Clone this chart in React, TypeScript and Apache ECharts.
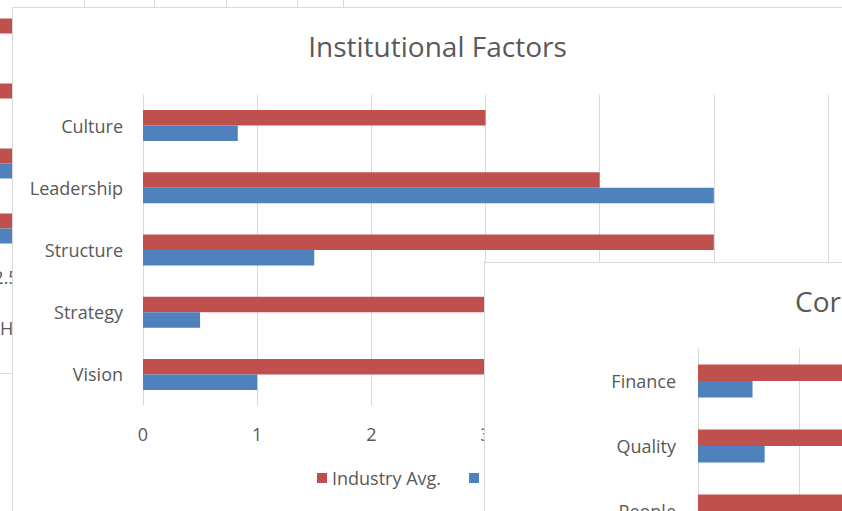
import React, { useEffect, useRef } from "react";
import * as echarts from "echarts";

// ---- Main chart: Institutional Factors ----
const instCategories = ["Culture", "Leadership", "Structure", "Strategy", "Vision"];
const instIndustry = [3, 4, 5, 4, 3];
const instHospital = [0.83, 5, 1.5, 0.5, 1];
const instTicks = [0, 1, 2, 3, 4, 5, 6];

// ---- Front chart: Core Factors (partly visible) ----
const coreCategories = ["Finance", "Quality", "People", "Process", "Technology"];
const coreIndustry = [4, 3.5, 4, 3, 3];
const coreHospital = [0.54, 0.66, 1, 1, 1];

// ---- Back chart (only a sliver is visible) ----
const backCategories = ["A", "B", "C", "D"];
const backIndustry = [2.8, 2.9, 2.8, 2.7];
const backHospital = [1.5, 2.0, 2.7, 2.75];

// spreadsheet cell border positions above the charts
const cellLines = [84, 154, 226, 297, 343];

const RED = "#C0504D";
const BLUE = "#4F81BD";
const GRID = "#D9D9D9";
const TEXT = "#595959";
const FONT = "Open Sans";
const LABEL_SIZE = 18;
const TITLE_SIZE = 28;

function makeBar(cats: string[], a: number[], b: number[], opts: any) {
  return {
    animation: false,
    textStyle: { fontFamily: FONT, color: TEXT },
    ...opts.extra,
    grid: { ...opts.grid, outerBoundsMode: "none", containLabel: false },
    xAxis: {
      type: "value",
      min: 0,
      max: opts.max,
      interval: opts.interval ?? 1,
      axisLine: { show: false },
      axisTick: { show: false },
      splitLine: { show: opts.split !== false, lineStyle: { color: GRID, width: 1 } },
      axisLabel: {
        show: opts.xLabels !== false,
        color: TEXT,
        fontFamily: FONT,
        fontSize: LABEL_SIZE,
        margin: opts.xMargin ?? 20,
        showMinLabel: true,
        showMaxLabel: true,
      },
    },
    yAxis: {
      type: "category",
      data: cats,
      inverse: true,
      axisLine: { show: false },
      axisTick: { show: false },
      axisLabel: { color: TEXT, fontFamily: FONT, fontSize: LABEL_SIZE, margin: opts.yMargin ?? 20 },
    },
    series: [
      {
        name: "Industry Avg.",
        type: "bar",
        data: a,
        barWidth: opts.barWidth,
        barGap: "0%",
        itemStyle: { color: RED },
      },
      {
        name: "Hospital",
        type: "bar",
        data: b,
        barWidth: opts.barWidth,
        barGap: "0%",
        itemStyle: { color: BLUE },
      },
    ],
  };
}

function Chart({ style, option }: { style: React.CSSProperties; option: any }) {
  const ref = useRef<HTMLDivElement>(null);
  useEffect(() => {
    if (!ref.current) return;
    const c = echarts.init(ref.current, undefined, { renderer: "svg" });
    c.setOption(option);
    return () => c.dispose();
  }, []);
  return <div ref={ref} style={style} />;
}

export default function App() {
  const boxBase: React.CSSProperties = {
    position: "absolute",
    border: "1px solid " + GRID,
    background: "#fff",
  };

  const backOption = makeBar(backCategories, backIndustry, backHospital, {
    grid: { left: 86, top: 30, width: 300, height: 260 },
    max: 3,
    interval: 0.5,
    split: false,
    barWidth: 15,
    xMargin: 7,
    extra: {
      graphic: [
        {
          type: "text",
          left: 330,
          top: 348,
          style: { text: "Hospital", fill: TEXT, font: LABEL_SIZE + "px 'Open Sans'" },
        },
      ],
    },
  });

  const mainOption = makeBar(instCategories, instIndustry, instHospital, {
    grid: { left: 130, top: 86.5, width: 685, height: 311 },
    max: instTicks[instTicks.length - 1],
    barWidth: 15.5,
    xMargin: 19,
    extra: {
      title: {
        text: "Institutional Factors",
        left: "center",
        top: 19,
        textStyle: { fontFamily: FONT, fontSize: TITLE_SIZE, fontWeight: "normal", color: TEXT },
      },
      legend: {
        left: 304,
        top: 461,
        padding: 0,
        itemWidth: 10,
        itemHeight: 10,
        itemGap: 28,
        icon: "rect",
        textStyle: { fontFamily: FONT, fontSize: LABEL_SIZE, color: TEXT },
        data: ["Industry Avg.", "Hospital"],
      },
    },
  });

  const coreOption = makeBar(coreCategories, coreIndustry, coreHospital, {
    grid: { left: 213, top: 85.5, width: 606, height: 325 },
    max: 6,
    barWidth: 16.5,
    yMargin: 22,
    extra: {
      title: {
        text: "Core Factors",
        left: 305,
        top: 19,
        textStyle: { fontFamily: FONT, fontSize: TITLE_SIZE, fontWeight: "normal", color: TEXT },
      },
    },
  });

  return (
    <div
      style={{
        position: "fixed",
        left: 0,
        top: 0,
        width: 842,
        height: 511,
        overflow: "hidden",
        background: "#fff",
      }}
    >
      <Chart
        style={{ ...boxBase, borderRight: "none", left: -331, top: -30, width: 800, height: 402 }}
        option={backOption}
      />
      {cellLines.map((x) => (
        <div
          key={x}
          style={{ position: "absolute", left: x, top: 0, width: 1, height: 8, background: GRID }}
        />
      ))}
      <Chart
        style={{ ...boxBase, left: 12, top: 7, width: 849, height: 530 }}
        option={mainOption}
      />
      <Chart
        style={{ ...boxBase, left: 484, top: 262, width: 850, height: 500 }}
        option={coreOption}
      />
    </div>
  );
}
